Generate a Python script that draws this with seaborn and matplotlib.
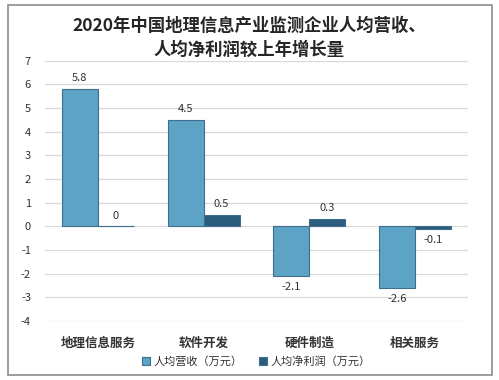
import pandas as pd
import numpy as np
import matplotlib
matplotlib.use('Agg')
import matplotlib.pyplot as plt
import seaborn as sns
from matplotlib.patches import Rectangle

# Datos
categorias = ['地理信息服务', '软件开发', '硬件制造', '相关服务']
series = ['人均营收（万元）', '人均净利润（万元）']
营收 = [5.8, 4.5, -2.1, -2.6]
净利润 = [0, 0.5, 0.3, -0.1]
y_ticks = [-4, -3, -2, -1, 0, 1, 2, 3, 4, 5, 6, 7]

df = pd.DataFrame({
    '类别': categorias * 2,
    '系列': [series[0]] * 4 + [series[1]] * 4,
    '值': 营收 + 净利润,
})

sns.set_style('white')
plt.rcParams['font.family'] = ['Noto Sans CJK SC', 'DejaVu Sans']
plt.rcParams['axes.unicode_minus'] = False

fig = plt.figure(figsize=(4.99, 3.8), dpi=100)
ax = fig.add_axes([0.09, 0.155, 0.848, 0.685])

colores = ['#5DA3C6', '#2A5E7C']
sns.barplot(data=df, x='类别', y='值', hue='系列', order=categorias,
            hue_order=series, palette=colores, width=0.68, saturation=1,
            edgecolor='#3F6F8C', linewidth=0.8, ax=ax, zorder=3)

ax.set_ylim(-4, 7)
ax.set_xlim(-0.5, 3.5)
ax.set_yticks(y_ticks)
ax.set_yticklabels([str(t) for t in y_ticks], fontsize=8, color='#333333')
ax.grid(axis='y', color='#D9D9D9', linewidth=0.9, zorder=0)
ax.set_axisbelow(True)
for s in ax.spines.values():
    s.set_visible(False)
ax.tick_params(axis='both', length=0)
ax.tick_params(axis='y', pad=10)
ax.tick_params(axis='x', pad=11)
ax.set_xlabel('')
ax.set_ylabel('')
ax.set_xticks(range(4))
ax.set_xticklabels(categorias, fontsize=9, fontweight='bold', color='#333333')

# Etiquetas de valores
for cont in ax.containers:
    for bar in cont:
        v = bar.get_height()
        xc = bar.get_x() + bar.get_width() / 2
        if v >= 0:
            ax.text(xc, v + 0.25, f'{v:g}', ha='center', va='bottom', fontsize=8, color='#333333')
        else:
            ax.text(xc, v - 0.25, f'{v:g}', ha='center', va='top', fontsize=8, color='#333333')

leg = ax.legend(loc='upper center', bbox_to_anchor=(0.5, -0.095), ncol=2, frameon=False,
                fontsize=8, handlelength=0.7, handleheight=0.7, handletextpad=0.3,
                columnspacing=1.5)
for t in leg.get_texts():
    t.set_color('#333333')

fig.text(0.5, 0.9, '2020年中国地理信息产业监测企业人均营收、\n人均净利润较上年增长量',
         ha='center', va='center', fontsize=12.5, fontweight='bold', linespacing=1.45)

fig.patches.append(Rectangle((0.016, 0.013), 0.97, 0.975, transform=fig.transFigure,
                             fill=False, edgecolor='#8C8C8C', linewidth=1.2))

fig.savefig('out.png', dpi=100, facecolor='white')
